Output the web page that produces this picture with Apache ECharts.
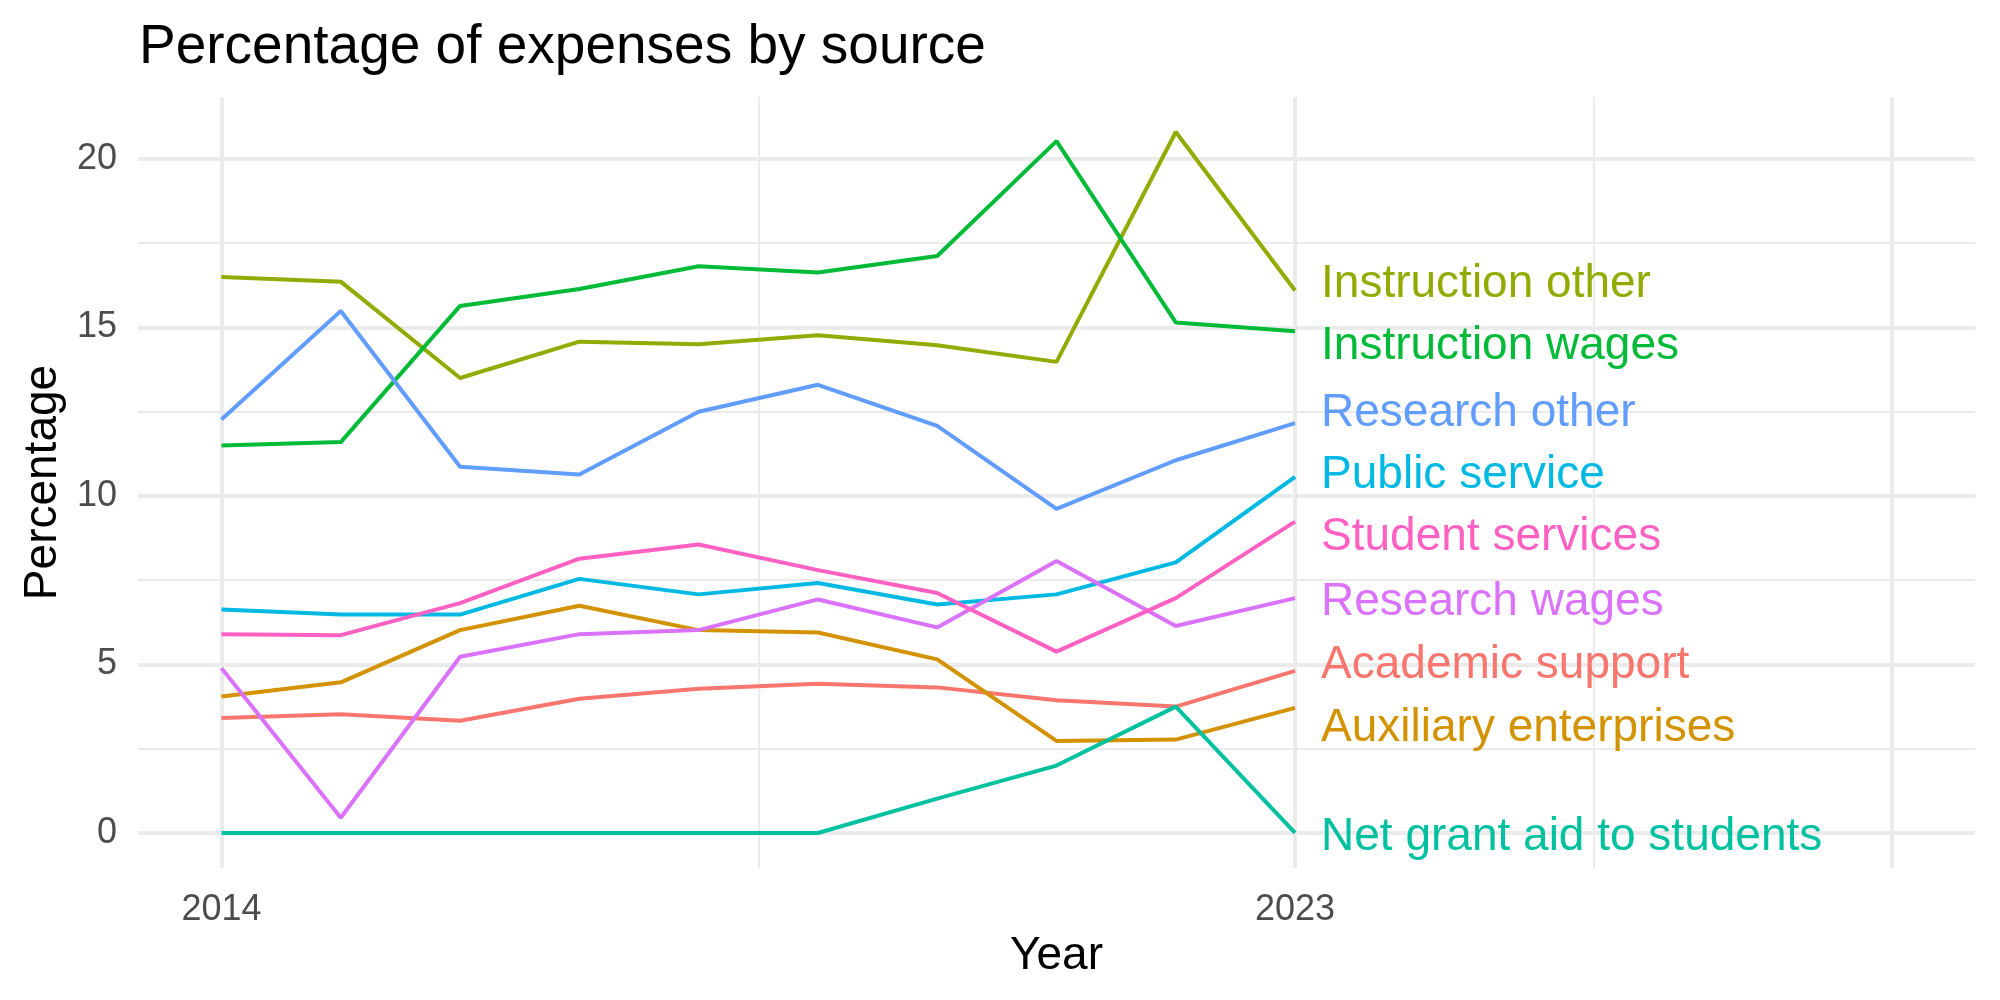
<!DOCTYPE html>
<html lang="en">
<head>
  <meta charset="UTF-8">
  <title>expenses</title>
  <style>
    html, body { margin: 0; padding: 0; background: #fff; }
    #chart { width: 2000px; height: 1000px; }
  </style>
</head>
<body>
<div id="chart"></div>
<script src="https://cdn.jsdelivr.net/npm/echarts@6/dist/echarts.min.js"></script>
<script>
  // data
  const years = [2014, 2015, 2016, 2017, 2018, 2019, 2020, 2021, 2022, 2023];
  const academicSupport = [3.41, 3.52, 3.33, 3.98, 4.28, 4.43, 4.32, 3.94, 3.75, 4.81];
  const auxiliaryEnterprises = [4.05, 4.47, 6.02, 6.74, 6.02, 5.95, 5.15, 2.73, 2.77, 3.71];
  const instructionOther = [16.5, 16.36, 13.5, 14.58, 14.5, 14.77, 14.47, 13.98, 20.8, 16.1];
  const instructionWages = [11.5, 11.6, 15.64, 16.14, 16.82, 16.63, 17.12, 20.53, 15.15, 14.89];
  const netGrantAid = [0, 0, 0, 0, 0, 0, 1.02, 2.0, 3.75, 0];
  const publicService = [6.63, 6.48, 6.48, 7.54, 7.08, 7.42, 6.78, 7.08, 8.03, 10.57];
  const researchOther = [12.27, 15.49, 10.87, 10.64, 12.5, 13.3, 12.08, 9.62, 11.06, 12.16];
  const researchWages = [4.89, 0.45, 5.23, 5.9, 6.02, 6.93, 6.1, 8.07, 6.14, 6.97];
  const studentServices = [5.9, 5.87, 6.82, 8.14, 8.56, 7.8, 7.12, 5.38, 6.97, 9.24];

  const names = ['Academic support', 'Auxiliary enterprises', 'Instruction other', 'Instruction wages',
    'Net grant aid to students', 'Public service', 'Research other', 'Research wages', 'Student services'];
  const values = [academicSupport, auxiliaryEnterprises, instructionOther, instructionWages,
    netGrantAid, publicService, researchOther, researchWages, studentServices];
  const colors = ['#F8766D', '#D39200', '#93AA00', '#00BA38', '#00C19F', '#00B9E3', '#619CFF', '#DB72FB', '#FF61C3'];
  // where the end labels sit (spread out so they don't overlap)
  const labelYear = 2023;
  const labelY = [5.08, 3.22, 16.4, 14.55, 0, 10.72, 12.58, 6.97, 8.9];

  // tick positions
  const xLabels = [2014, 2023];
  const xMajor = [2014, 2023, 2028];
  const xMinor = [2018.5, 2025.5];
  const yMajor = [0, 5, 10, 15, 20];
  const yMinor = [2.5, 7.5, 12.5, 17.5];

  const font = 'Liberation Sans';
  const gridColor = '#EBEBEB';
  const xMin = 2013.3, xMax = 2028.7, yMin = -1.04, yMax = 21.84;

  const chart = echarts.init(document.getElementById('chart'));

  const series = [];
  names.forEach((n, i) => {
    series.push({
      name: n,
      type: 'line',
      data: years.map((y, j) => [y, values[i][j]]),
      showSymbol: false,
      symbol: 'none',
      lineStyle: { color: colors[i], width: 4 },
      itemStyle: { color: colors[i] },
      z: 3
    });
  });
  names.forEach((n, i) => {
    series.push({
      name: n + ' label',
      type: 'scatter',
      data: [[labelYear, labelY[i]]],
      symbolSize: 0,
      itemStyle: { color: colors[i], opacity: 1 },
      label: {
        show: true,
        position: 'right',
        distance: 26,
        offset: [0, 4],
        formatter: n,
        color: colors[i],
        opacity: 1,
        fontFamily: font,
        fontSize: 46
      },
      z: 4
    });
  });

  chart.setOption({
    animation: false,
    backgroundColor: '#fff',
    title: {
      text: 'Percentage of expenses by source',
      left: 134,
      top: 15,
      textStyle: { fontFamily: font, fontSize: 55, fontWeight: 'normal', color: '#000' }
    },
    grid: { left: 138, right: 25, top: 97, bottom: 132 },
    xAxis: [
      {
        type: 'value', min: xMin, max: xMax,
        name: 'Year', nameLocation: 'middle', nameGap: 56,
        nameTextStyle: { fontFamily: font, fontSize: 46, color: '#000' },
        axisLine: { show: false },
        axisTick: { show: false, customValues: xMajor },
        axisLabel: { customValues: xLabels, margin: 24, fontFamily: font, fontSize: 36, color: '#4D4D4D',
          formatter: v => String(v) },
        splitLine: { show: true, lineStyle: { color: gridColor, width: 4 } }
      },
      {
        type: 'value', min: xMin, max: xMax, position: 'bottom',
        axisLine: { show: false },
        axisTick: { show: false, customValues: xMinor },
        axisLabel: { show: false },
        splitLine: { show: true, lineStyle: { color: gridColor, width: 2 } }
      }
    ],
    yAxis: [
      {
        type: 'value', min: yMin, max: yMax,
        name: 'Percentage', nameLocation: 'middle', nameGap: 72, nameRotate: 90,
        nameTextStyle: { fontFamily: font, fontSize: 46, color: '#000' },
        axisLine: { show: false },
        axisTick: { show: false, customValues: yMajor },
        axisLabel: { customValues: yMajor, margin: 21, fontFamily: font, fontSize: 36, color: '#4D4D4D' },
        splitLine: { show: true, lineStyle: { color: gridColor, width: 4 } }
      },
      {
        type: 'value', min: yMin, max: yMax, position: 'left',
        axisLine: { show: false },
        axisTick: { show: false, customValues: yMinor },
        axisLabel: { show: false },
        splitLine: { show: true, lineStyle: { color: gridColor, width: 2 } }
      }
    ],
    series: series
  });
</script>
</body>
</html>
